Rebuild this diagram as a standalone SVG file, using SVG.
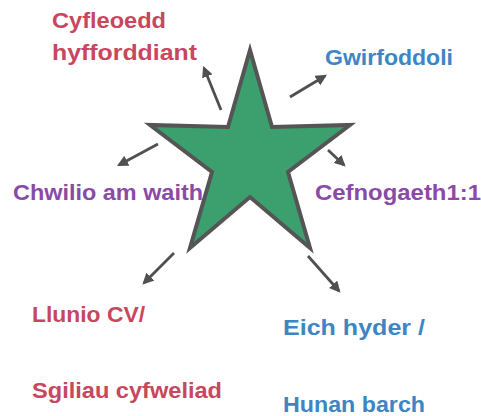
<svg xmlns="http://www.w3.org/2000/svg" width="481" height="416" viewBox="0 0 481 416">
<defs>
<marker id="ah" viewBox="0 0 10 10" refX="8" refY="5" markerWidth="4" markerHeight="4" orient="auto" markerUnits="strokeWidth">
<path d="M0,0 L10,5 L0,10 Z" fill="#505050"/>
</marker>
<style>
.t{font-family:"Comic Sans MS","Liberation Sans",sans-serif;font-weight:bold;font-size:22px}
.red{fill:#c8465e}
.blue{fill:#3d85c4}
.pur{fill:#8a4aa6}
.c{stroke:#505050;stroke-width:2.8;fill:none;marker-end:url(#ah)}
</style>
</defs>
<rect width="481" height="416" fill="#ffffff"/>
<g id="star">
<polygon points="250,50 272,127 350,125 288,172 310,248 250,197 190,248 212,172 150,125 228,127" fill="#3c9f6e" stroke="#555555" stroke-width="4" stroke-linejoin="miter"/>
</g>
<g id="connectors">
<line class="c" x1="221" y1="110" x2="204" y2="68"/>
<line class="c" x1="290" y1="97" x2="325" y2="76"/>
<line class="c" x1="158" y1="144" x2="119" y2="165"/>
<line class="c" x1="328" y1="150" x2="344" y2="165"/>
<line class="c" x1="174" y1="253" x2="144" y2="283"/>
<line class="c" x1="308" y1="256" x2="339" y2="291"/>
</g>
<g id="n-cyfleoedd">
<text class="t red" x="52" y="28" textLength="114" lengthAdjust="spacingAndGlyphs">Cyfleoedd</text>
<text class="t red" x="52" y="60" textLength="145" lengthAdjust="spacingAndGlyphs">hyfforddiant</text>
</g>
<g id="n-gwirfoddoli">
<text class="t blue" x="325" y="65" textLength="128" lengthAdjust="spacingAndGlyphs">Gwirfoddoli</text>
</g>
<g id="n-chwilio">
<text class="t pur" x="13" y="200" textLength="190" lengthAdjust="spacingAndGlyphs">Chwilio am waith</text>
</g>
<g id="n-cefnogaeth">
<text class="t pur" x="315" y="200" textLength="166" lengthAdjust="spacingAndGlyphs">Cefnogaeth1:1</text>
</g>
<g id="n-llunio">
<text class="t red" x="32" y="322" textLength="113" lengthAdjust="spacingAndGlyphs">Llunio CV/</text>
<text class="t red" x="32" y="398" textLength="190" lengthAdjust="spacingAndGlyphs">Sgiliau cyfweliad</text>
</g>
<g id="n-hyder">
<text class="t blue" x="283" y="335" textLength="142" lengthAdjust="spacingAndGlyphs">Eich hyder /</text>
<text class="t blue" x="283" y="412" textLength="142" lengthAdjust="spacingAndGlyphs">Hunan barch</text>
</g>
</svg>
